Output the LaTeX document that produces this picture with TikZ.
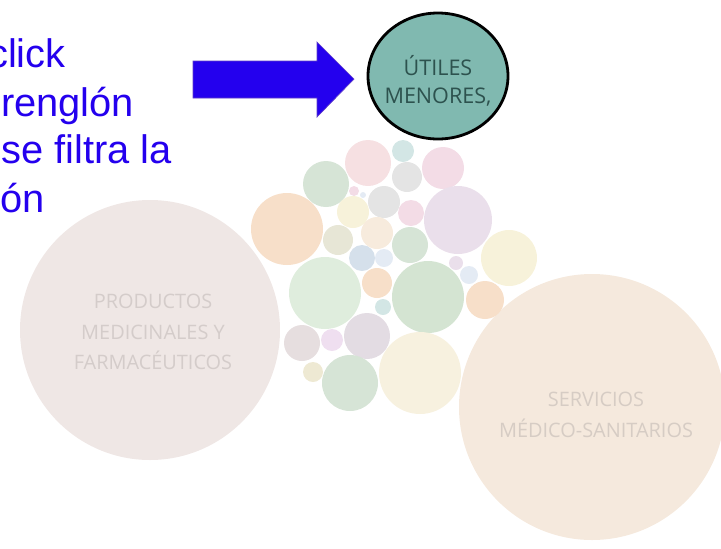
\documentclass[tikz,border=0pt]{standalone}
\usepackage{fontspec}
\setmainfont{Liberation Sans}
\newfontfamily\bubblefont{Open Sans}
\usetikzlibrary{shapes.geometric}

\definecolor{clickblue}{RGB}{36,0,238}
\definecolor{arrowedge}{RGB}{96,64,200}
\definecolor{tealfill}{RGB}{128,185,176}
\definecolor{tealtext}{RGB}{45,82,78}
\definecolor{prodfill}{HTML}{EFE7E5}
\definecolor{prodtext}{HTML}{D4CCCA}
\definecolor{servfill}{HTML}{F5E9DD}
\definecolor{servtext}{HTML}{D6CCC4}
\definecolor{bpink}{HTML}{F6E0E2}
\definecolor{bteal}{HTML}{D3E6E5}
\definecolor{bgreen}{HTML}{D6E4D6}
\definecolor{bgray}{HTML}{E4E4E4}
\definecolor{brose}{HTML}{F3DCE6}
\definecolor{blav}{HTML}{EADFEB}
\definecolor{borange}{HTML}{F7DFC9}
\definecolor{bpeach}{HTML}{F7EBDD}
\definecolor{bcream}{HTML}{F7F2DA}
\definecolor{bolive}{HTML}{E7E6D6}
\definecolor{bblue}{HTML}{D5E0EB}
\definecolor{bsky}{HTML}{E4EBF4}
\definecolor{bmint}{HTML}{DFEDDD}
\definecolor{bsage}{HTML}{D4E4D2}
\definecolor{bmauve}{HTML}{E3DCE3}
\definecolor{bdusk}{HTML}{E6DEDF}
\definecolor{blilac}{HTML}{EFDFF0}
\definecolor{bsand}{HTML}{EEE9D3}
\definecolor{bivory}{HTML}{F7F1DF}

\tikzset{
  bubble/.style={circle, inner sep=0pt, minimum size={#1*0.06cm}},
  hint/.style={anchor=base west, inner sep=0pt, text=clickblue,
    font=\fontsize{34}{41}\selectfont},
  biglabel/.style={align=center, inner sep=0pt, font=\bubblefont\fontsize{17}{26}\selectfont}
}

\begin{document}
\begin{tikzpicture}[x=0.03cm, y=-0.03cm]
    \useasboundingbox (0,0) rectangle (721,548);
    \clip (0,0) rectangle (721,548);
    % Definitions
    \coordinate (Tail)  at (193,79);
    \coordinate (Tip)   at (354,79);
    \coordinate (Utiles) at (438,76);
    \coordinate (Prod)  at (150,330);
    \coordinate (Serv)  at (592,407);
    % Big bubbles
    \node(PM) at (Prod) [bubble=130, fill=prodfill] {};
    \node(SM) at (Serv) [bubble=133, fill=servfill] {};
    \node(PMlbl) at (153,332) [biglabel, text=prodtext] {PRODUCTOS\\MEDICINALES Y\\FARMAC\'EUTICOS};
    \node(SMlbl) at (596,415) [biglabel, text=servtext] {SERVICIOS\\M\'EDICO-SANITARIOS};
    % Small bubbles
    \foreach \x/\y/\r/\c [count=\i] in {
        368/163/23/bpink, 403/151/11/bteal, 326/184/23/bgreen, 407/177/15/bgray,
        443/168/21/brose, 354/191/5/brose, 363/195/3/bsky, 458/220/34/blav,
        384/202/16/bgray, 411/213/13/brose, 353/212/16/bcream, 287/229/36/borange,
        377/233/16/bpeach, 410/245/18/bgreen, 338/240/15/bolive, 509/258/28/bcream,
        362/258/13/bblue, 384/258/9/bsky, 456/263/7/blav, 469/275/9/bsky,
        325/293/36/bmint, 377/283/15/borange, 428/297/36/bsage, 485/300/19/borange,
        383/307/8/bteal, 367/336/23/bmauve, 302/343/18/bdusk, 332/340/11/blilac,
        313/372/10/bsand, 350/383/28/bgreen, 420/373/41/bivory}
        \node(b\i) at (\x,\y) [bubble=\r, fill=\c] {};
    % Selected bubble
    \node(UM) at (Utiles) [ellipse, draw=black, line width=2.4pt, fill=tealfill,
        minimum width=4.2cm, minimum height=3.78cm] {};
    \node(UMlbl) at (438,81) [align=center, inner sep=0pt, text=tealtext,
        font=\bubblefont\fontsize{18.4}{24.3}\selectfont] {\'UTILES\\MENORES,};
    % Arrow
    \fill[clickblue, draw=arrowedge, line width=0.6pt]
        (Tail) ++(0,-18) -- (317,61) -- (317,42) -- (Tip) -- (317,117) -- (317,98) -- ++(-124,0) -- cycle;
    % Hint text
    \node(h1) at (-12,67)  [hint] {click};
    \node(h2) at (1,116)   [hint] {rengl\'on};
    \node(h3) at (1,163)   [hint] {se filtra la};
    \node(h4) at (0,212)   [hint] {\'on};
\end{tikzpicture}
\end{document}
